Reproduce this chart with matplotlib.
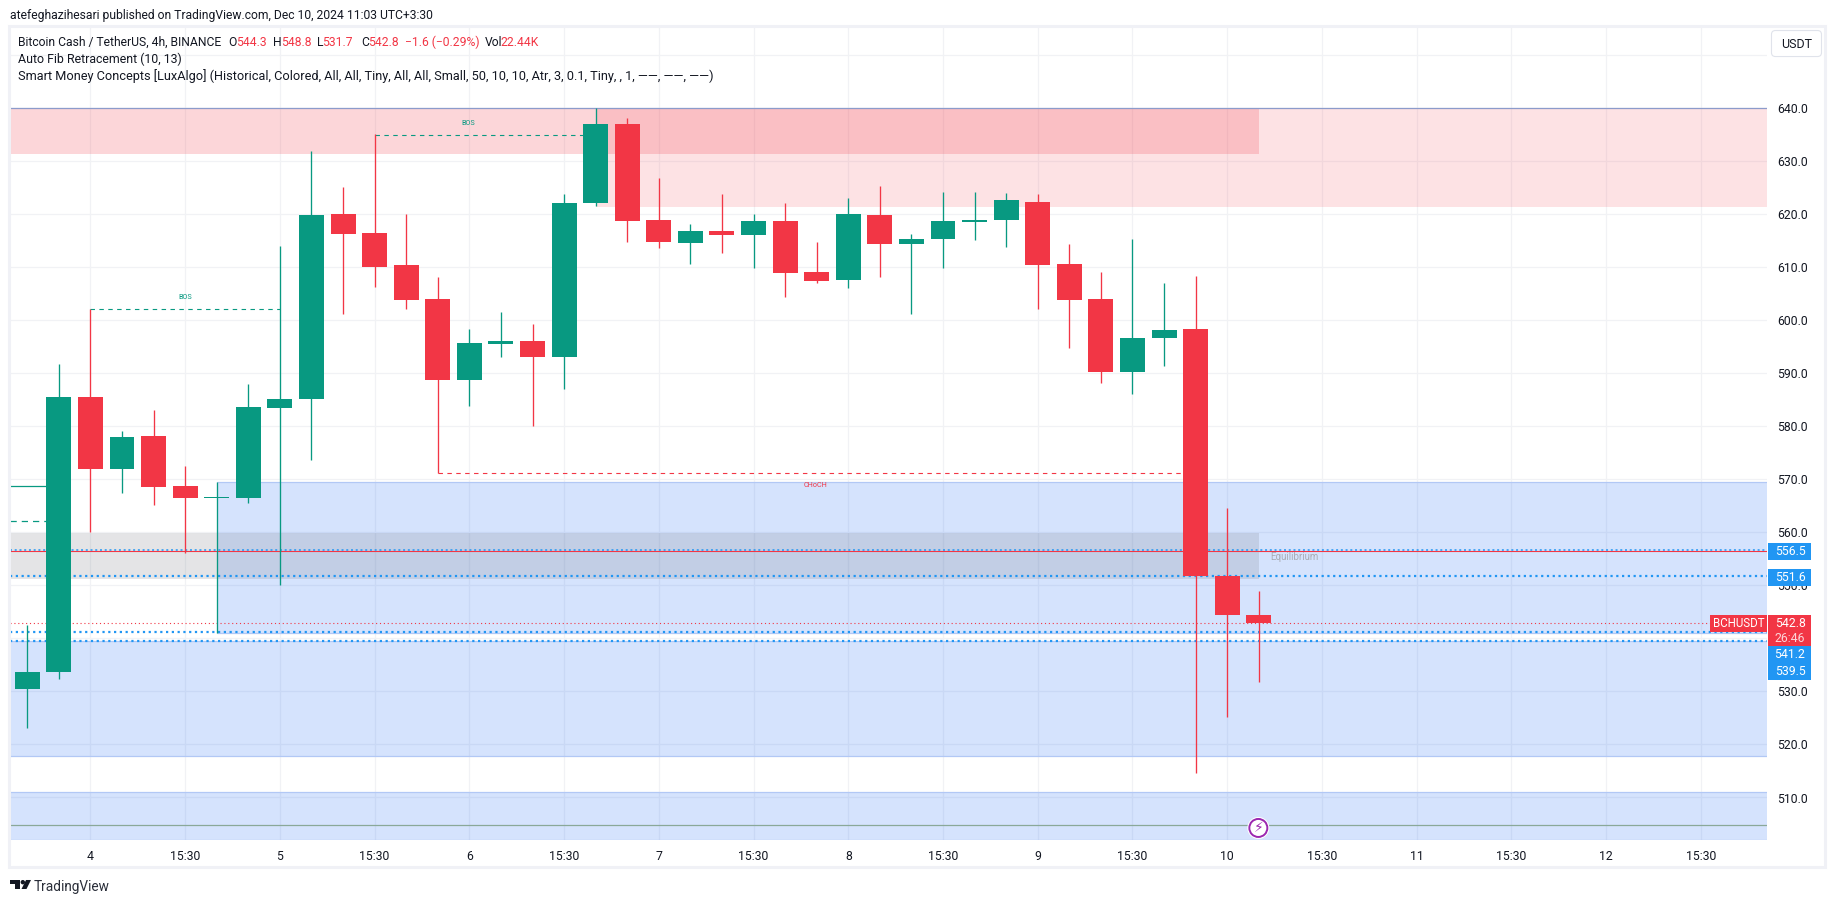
# BCH/USDT 4h candle chart, TradingView style

import matplotlib
matplotlib.use("Agg")
import matplotlib.pyplot as plt
from matplotlib.patches import Rectangle, FancyBboxPatch, Circle, Polygon

plt.rcParams["font.family"] = ["Roboto", "DejaVu Sans"]

# Candles
opens = [530.4, 533.6, 585.5, 571.8, 578.0, 568.6, 566.4, 566.3, 583.4, 585.0,
         620.0, 616.4, 610.4, 604.0, 588.6, 595.4, 596.0, 593.0, 622.0, 637.0,
         618.8, 614.4, 616.8, 616.0, 618.6, 609.1, 607.5, 619.7, 614.2, 615.3,
         618.4, 618.8, 622.3, 610.6, 604.0, 590.1, 596.5, 598.2, 551.7, 544.3]
highs = [542.5, 591.7, 602.0, 579.1, 583.0, 572.5, 569.4, 587.8, 614.0, 631.8,
         625.0, 635.0, 620.0, 608.0, 598.3, 601.4, 599.2, 623.7, 640.0, 638.0,
         626.8, 618.0, 623.7, 620.0, 622.0, 614.6, 623.0, 625.2, 616.2, 624.1,
         624.1, 623.9, 623.7, 614.2, 609.0, 615.3, 607.0, 608.2, 564.5, 548.8]
lows = [523.1, 532.3, 560.0, 567.4, 565.0, 556.1, 541.0, 565.4, 550.0, 573.6,
        601.0, 606.2, 602.0, 571.1, 583.7, 593.0, 580.0, 587.0, 621.5, 614.6,
        613.5, 610.6, 612.6, 609.8, 604.2, 607.0, 606.0, 608.0, 601.0, 609.8,
        615.0, 613.8, 602.0, 594.7, 588.0, 586.0, 591.2, 514.6, 525.0, 531.7]
closes = [533.6, 585.5, 571.8, 577.8, 568.4, 566.3, 566.6, 583.6, 585.0, 619.8,
          616.2, 610.0, 603.8, 588.6, 595.6, 596.0, 593.0, 622.1, 637.0, 618.6,
          614.6, 616.8, 616.0, 618.6, 608.9, 607.3, 619.9, 614.2, 615.3, 618.6,
          618.8, 622.6, 610.4, 603.8, 590.1, 596.5, 598.0, 551.7, 544.4, 542.8]

# Axis ticks
price_ticks = [510, 520, 530, 540, 550, 560, 570, 580, 590, 600, 610, 620, 630, 640, 650]
time_ticks = [2, 5, 8, 11, 14, 17, 20, 23, 26, 29, 32, 35, 38, 41, 44, 47, 50, 53]
time_labels = ["4", "15:30", "5", "15:30", "6", "15:30", "7", "15:30", "8", "15:30",
               "9", "15:30", "10", "15:30", "11", "15:30", "12", "15:30"]

# Levels
fib_levels = [551.6, 541.2, 539.5]
last_close = 542.8

GREEN = "#089981"
RED = "#F23645"
BLUE = "#2196F3"
ZONE = "#2D73F5"
TEXT = "#131722"
FRAME = "#F0F1F6"

fig = plt.figure(figsize=(18.355, 9.035), dpi=100, facecolor="white")

# main axes, pixel box 10..1767 / 27..840
ax = fig.add_axes([10 / 1835, 1 - 840 / 903, 1757 / 1835, 813 / 903])
left = -0.547
right = 55.11
ax.set_xlim(left, right)
ax.set_ylim(501.9, 655.3)
ax.set_axisbelow(True)
ax.grid(True, color="#F1F2F5", lw=0.9)
for s in ax.spines.values():
    s.set_visible(False)
ax.yaxis.tick_right()
ax.set_yticks(price_ticks)
ax.set_yticklabels([f"{p:.1f}" for p in price_ticks], fontsize=8.8, color=TEXT)
ax.set_xticks(time_ticks)
ax.set_xticklabels(time_labels, fontsize=8.8, color=TEXT)
ax.tick_params(length=0)
ax.tick_params(axis="y", pad=7)
ax.tick_params(axis="x", pad=7)
ax.get_yticklabels()[-1].set_visible(False)


def box(x0, x1, y0, y1, color, alpha, edge=None):
    ax.add_patch(Rectangle((x0, y0), x1 - x0, y1 - y0, facecolor=color, alpha=alpha,
                           lw=0, zorder=1))
    if edge:
        ax.hlines([y0, y1], x0, x1, color=edge, lw=0.9, zorder=1.1)


# supply zones
box(left, 39, 631.3, 640, RED, 0.2)
box(18, right, 621.3, 640, RED, 0.14)
# demand zones
box(6, right, 541.0, 569.4, ZONE, 0.2, "#B2C8F5")
box(left, right, 517.8, 539.5, ZONE, 0.2, "#B2C8F5")
box(left, right, 501.9, 511.0, ZONE, 0.2, "#B2C8F5")
# equilibrium
box(left, 39, 551.2, 559.7, "#787B86", 0.2)
ax.text(39.35, 555.4, "Equilibrium", fontsize=7, color="#A9ACB5", va="center", zorder=2)

# fib lines
ax.hlines(640, left, right, color="#8C9BCB", lw=0.9, zorder=2)
ax.hlines(504.7, left, right, color="#8AA898", lw=0.9, zorder=2)
ax.hlines(556.35, left, right, color=RED, lw=0.8, zorder=2)
ax.hlines(556.55, left, right, color=BLUE, lw=1.1, linestyles=(0, (1.3, 1.8)), zorder=2.1)
ax.hlines(fib_levels, left, right, color=BLUE, lw=1.6, linestyles=(0, (1, 1.6)), zorder=2)
ax.hlines(last_close, left, right, color=RED, lw=0.8, linestyles=(0, (1, 2.5)), zorder=2.2)

# market structure
ax.hlines(568.6, left, 1, color=GREEN, lw=0.9, zorder=2)
ax.hlines(562.0, left, 1, color=GREEN, lw=0.9, linestyles=(0, (5, 4)), zorder=2)
ax.hlines(602.0, 2, 8, color=GREEN, lw=0.8, linestyles=(0, (4, 4)), zorder=2)
ax.hlines(634.8, 11, 18, color=GREEN, lw=0.8, linestyles=(0, (4, 4)), zorder=2)
ax.hlines(571.1, 13, 37, color=RED, lw=0.8, linestyles=(0, (4, 4)), zorder=2)
ax.text(5, 604.2, "BOS", fontsize=5.2, color=GREEN, ha="center", va="center", zorder=2)
ax.text(13.95, 637.1, "BOS", fontsize=5.2, color=GREEN, ha="center", va="center", zorder=2)
ax.text(24.95, 568.9, "CHoCH", fontsize=5.2, color=RED, ha="center", va="center", zorder=2)

# candles
idx = list(range(len(opens)))
colors = [GREEN if c >= o else RED for o, c in zip(opens, closes)]
ax.vlines(idx, lows, highs, color=colors, lw=0.95, zorder=3)
ax.bar(idx, [abs(c - o) for o, c in zip(opens, closes)],
       bottom=[min(o, c) for o, c in zip(opens, closes)],
       width=0.79, color=colors, lw=0, zorder=3.1)

# overlay in pixels for the frame, header and price tags
ov = fig.add_axes([0, 0, 1, 1], zorder=10)
ov.set_xlim(0, 1835)
ov.set_ylim(903, 0)
ov.axis("off")
ov.patch.set_alpha(0)

ov.add_patch(Rectangle((8.5, 26), 1816, 841, fill=False, ec=FRAME, lw=2.2))

ov.text(10, 15, "atefeghazihesari published on TradingView.com, Dec 10, 2024 11:03 UTC+3:30",
        fontsize=8.7, color=TEXT, va="center")
ov.text(18, 42, "Bitcoin Cash / TetherUS, 4h, BINANCE", fontsize=8.7, color=TEXT, va="center")
for x, s, c in [(228, "O", TEXT), (236, "544.3", RED), (273, "H", TEXT), (281, "548.8", RED),
                (317, "L", TEXT), (322, "531.7", RED), (361, "C", TEXT), (368, "542.8", RED),
                (405, "\u22121.6 (\u22120.29%)", RED), (485, "Vol", TEXT), (500, "22.44K", RED)]:
    ov.text(x, 42, s, fontsize=8.7, color=c, va="center")
ov.text(18, 59, "Auto Fib Retracement (10, 13)", fontsize=8.9, color=TEXT, va="center")
ov.text(18, 76, "Smart Money Concepts [LuxAlgo] (Historical, Colored, All, All, Tiny, All, All, "
        "Small, 50, 10, 10, Atr, 3, 0.1, Tiny, , 1, \u2014\u2014, \u2014\u2014, \u2014\u2014)",
        fontsize=9.2, color=TEXT, va="center")

# USDT button
ov.add_patch(FancyBboxPatch((1771, 31), 50, 26, boxstyle="round,pad=0,rounding_size=4",
                            fc="white", ec="#E0E3EB", lw=0.8))
ov.text(1796, 44.5, "USDT", fontsize=9, color=TEXT, ha="center", va="center")

# price tags
ov.add_patch(Rectangle((1768, 543), 43, 17, fc=BLUE, lw=0))
ov.text(1789.5, 551.5, "556.5", fontsize=8.8, color="white", ha="center", va="center")
ov.add_patch(Rectangle((1768, 569), 43, 17, fc=BLUE, lw=0))
ov.text(1789.5, 577.5, "551.6", fontsize=8.8, color="white", ha="center", va="center")
ov.add_patch(Rectangle((1768, 646), 43, 34, fc=BLUE, lw=0))
ov.text(1789.5, 654.5, "541.2", fontsize=8.8, color="white", ha="center", va="center")
ov.text(1789.5, 671.5, "539.5", fontsize=8.8, color="white", ha="center", va="center")
ov.add_patch(Rectangle((1768, 615), 43, 31, fc=RED, lw=0))
ov.text(1789.5, 623.5, "542.8", fontsize=8.8, color="white", ha="center", va="center")
ov.text(1789.5, 638, "26:46", fontsize=8.8, color="#FBD5D8", ha="center", va="center")
ov.add_patch(Rectangle((1710, 615), 57, 17, fc=RED, lw=0))
ov.text(1738.5, 623.5, "BCHUSDT", fontsize=8.3, color="white", ha="center", va="center")

# lightning marker
ov.add_patch(Circle((1258, 828), 11, fc="white", ec="none"))
ov.add_patch(Circle((1258, 828), 9, fc="white", ec="#9C27B0", lw=1.4))
ov.text(1258, 828, "\u26A1", fontsize=10, color="#9C27B0", ha="center", va="center",
        family="DejaVu Sans")

# footer, logo and name
ov.add_patch(Polygon([(10, 880), (19.5, 880), (19.5, 889), (15, 889), (15, 884.5), (10, 884.5)],
                     fc=TEXT, lw=0))
ov.add_patch(Circle((22.8, 882.2), 2.2, fc=TEXT, lw=0))
ov.add_patch(Polygon([(26, 880), (31, 880), (26.5, 889), (21.5, 889)], fc=TEXT, lw=0))
ov.text(33.5, 886.5, "TradingView", fontsize=9.8, color="#2A2E39", va="center")

fig.savefig("out.png", dpi=100)
